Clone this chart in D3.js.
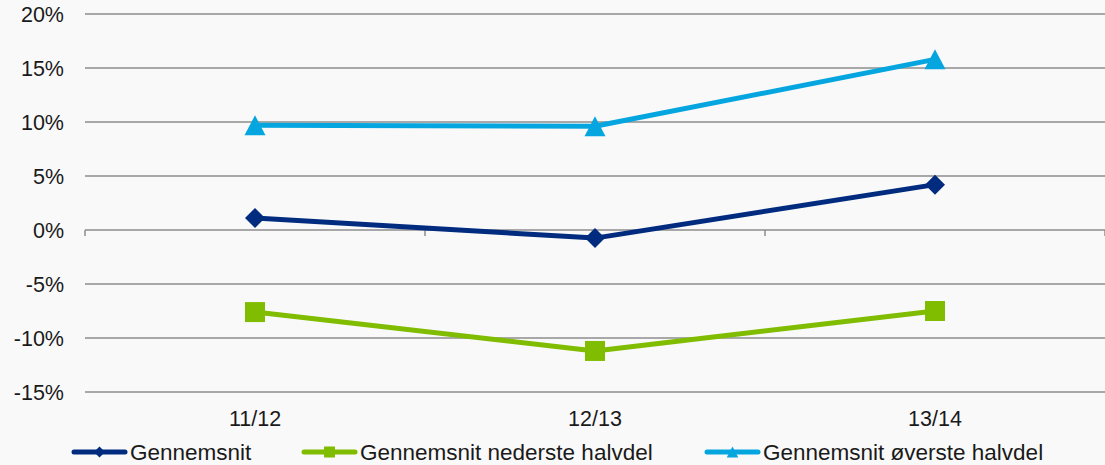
<!DOCTYPE html>
<html><head><meta charset="utf-8">
<script src="https://cdn.jsdelivr.net/npm/d3@7"></script>
<style>
html,body{margin:0;padding:0;background:#f9f9f9;}
svg{display:block;font-family:"Liberation Sans",Arial,sans-serif;}
</style></head>
<body><svg id="c" width="1105" height="465"></svg>
<script>
const categories = ["11/12","12/13","13/14"];
const gennemsnit = [1.1, -0.75, 4.2];
const nederste = [-7.6, -11.2, -7.5];
const oeverste = [9.7, 9.6, 15.8];
const yTicks = [-15,-10,-5,0,5,10,15,20];
const seriesNames = ["Gennemsnit","Gennemsnit nederste halvdel","Gennemsnit øverste halvdel"];

const series = [
  {name: seriesNames[0], values: gennemsnit, color: "#002b7f", marker: "diamond"},
  {name: seriesNames[1], values: nederste, color: "#80bc00", marker: "square"},
  {name: seriesNames[2], values: oeverste, color: "#05a6e0", marker: "triangle"}
];

const svg = d3.select("#c");
const L = 85, R = 1105, T = 14, B = 392;
const x = d3.scalePoint().domain(categories).range([L, R]).padding(0.5);
const xb = d3.scaleBand().domain(categories).range([L, R]);
const y = d3.scaleLinear().domain([-15, 20]).range([B, T]);

svg.append("g").selectAll("line").data(yTicks).join("line")
  .attr("x1", L).attr("x2", R)
  .attr("y1", d => y(d)).attr("y2", d => y(d))
  .attr("stroke", "#8c8c8c").attr("stroke-width", 1.5);

svg.append("g").selectAll("text").data(yTicks).join("text")
  .attr("x", 64).attr("y", d => y(d)).attr("dy", "0.37em")
  .attr("text-anchor", "end").attr("font-size", 21.5).attr("fill", "#1a1a1a")
  .text(d => d + "%");

const bounds = categories.map(c => xb(c)).concat([R]);
svg.append("g").selectAll("line").data(bounds).join("line")
  .attr("x1", d => d).attr("x2", d => d)
  .attr("y1", y(0)).attr("y2", y(0) + 6)
  .attr("stroke", "#8c8c8c").attr("stroke-width", 1.5);

svg.append("g").selectAll("text").data(categories).join("text")
  .attr("x", d => x(d)).attr("y", 426)
  .attr("text-anchor", "middle").attr("font-size", 21.5).attr("fill", "#1a1a1a")
  .text(d => d);

function markerPath(type, r) {
  if (type === "diamond") return `M0,${-r}L${r},0L0,${r}L${-r},0Z`;
  if (type === "square") return `M${-r},${-r}H${r}V${r}H${-r}Z`;
  return `M0,${-r}L${r*1.05},${r}L${-r*1.05},${r}Z`;
}

const line = d3.line().x((d, i) => x(categories[i])).y(d => y(d));
series.forEach(s => {
  svg.append("path").datum(s.values).attr("d", line)
    .attr("fill", "none").attr("stroke", s.color).attr("stroke-width", 5)
    .attr("stroke-linejoin", "round");
  svg.append("g").selectAll("path").data(s.values).join("path")
    .attr("transform", (d, i) => `translate(${x(categories[i])},${y(d)})`)
    .attr("d", markerPath(s.marker, 10))
    .attr("fill", s.color);
});

const legendX = [72, 302, 705];
const lg = svg.append("g").selectAll("g").data(series).join("g")
  .attr("transform", (d, i) => `translate(${legendX[i]},452)`);
lg.append("line").attr("x1", 2).attr("x2", 53).attr("y1", 0).attr("y2", 0)
  .attr("stroke", d => d.color).attr("stroke-width", 5).attr("stroke-linecap", "round");
lg.append("path").attr("transform", "translate(27.5,0)")
  .attr("d", d => markerPath(d.marker, d.marker === "square" ? 5.5 : 5.5))
  .attr("fill", d => d.color);
lg.append("text").attr("x", 58).attr("y", 0).attr("dy", "0.36em")
  .attr("font-size", 22.5).attr("fill", "#1a1a1a").text(d => d.name);
</script></body></html>
